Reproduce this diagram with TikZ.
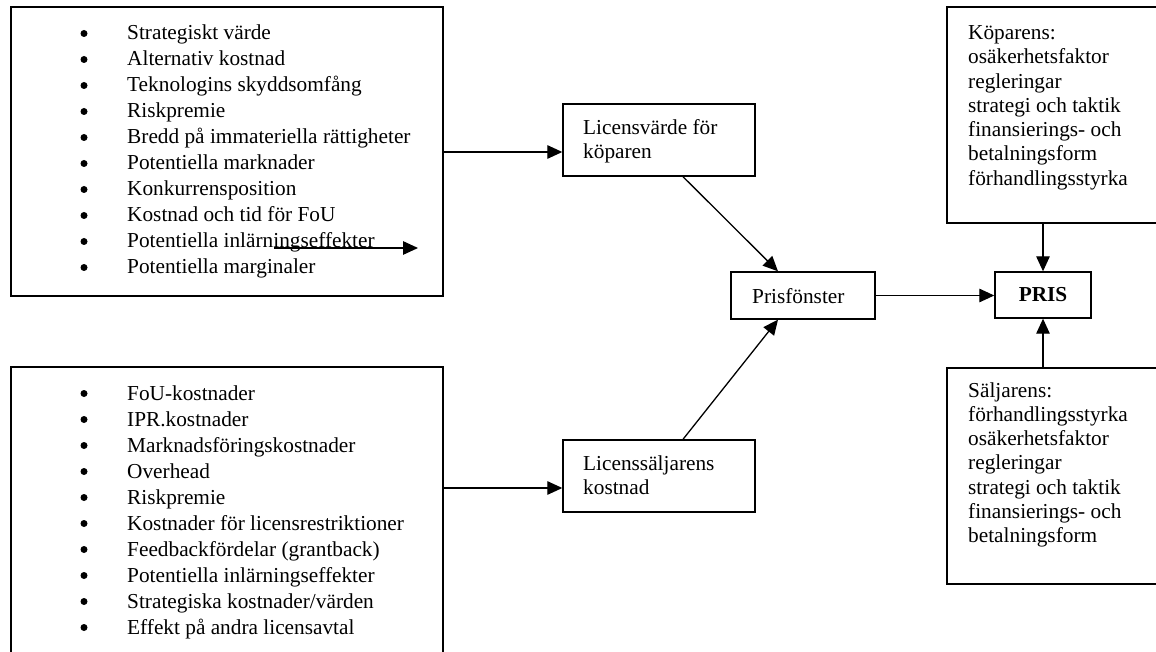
\documentclass[tikz,border=0pt]{standalone}
\usepackage{fontspec}
\setmainfont{Liberation Serif}
\usetikzlibrary{arrows.meta,calc}
\begin{document}
\begin{tikzpicture}[x=1pt,y=-1pt,
  box/.style={draw,line width=1.4pt,inner sep=0pt},
  arr/.style={line width=1.3pt,-{Triangle[length=15pt,width=13.5pt]}},
  txt/.style={inner sep=0pt,anchor=base west,font=\fontsize{21.3pt}{24.3pt}\selectfont},
  bul/.style={circle,fill,inner sep=0pt,minimum size=7pt}]
\useasboundingbox (0,0) rectangle (1156,652);
\clip (0,0) rectangle (1156,652);
\fill[white] (0,0) rectangle (1156,652);

% boxes
\node[box,minimum width=432pt,minimum height=289pt] (A) at (227,151.5) {};
\node[box,minimum width=432pt,minimum height=333pt] (B) at (227,533.5) {};
\node[box,minimum width=192pt,minimum height=72pt] (L1) at (659,140) {};
\node[box,minimum width=192pt,minimum height=72pt] (L2) at (659,476) {};
\node[box,minimum width=144pt,minimum height=47pt] (P) at (803,295.5) {};
\node[box,minimum width=96pt,minimum height=46pt] (R) at (1043,295) {};
\node[box,minimum width=253pt,minimum height=216pt] (K) at (1073.5,115) {};
\node[box,minimum width=253pt,minimum height=216pt] (S) at (1073.5,476) {};

% buyer value factors
\foreach \t [count=\i] in {{Strategiskt värde},{Alternativ kostnad},{Teknologins skyddsomfång},{Riskpremie},{Bredd på immateriella rättigheter},{Potentiella marknader},{Konkurrensposition},{Kostnad och tid för FoU},{Potentiella inlärningseffekter},{Potentiella marginaler}}{
  \node[bul] (ab\i) at (84,{33.5+26*(\i-1)}) {};
  \node[txt] (a\i) at (127,{40+26*(\i-1)}) {\t};
}
% seller cost factors
\foreach \t [count=\i] in {{FoU-kostnader},{IPR.kostnader},{Marknadsföringskostnader},{Overhead},{Riskpremie},{Kostnader för licensrestriktioner},{Feedbackfördelar (grantback)},{Potentiella inlärningseffekter},{Strategiska kostnader/värden},{Effekt på andra licensavtal}}{
  \node[bul] (bb\i) at (84,{393.5+26*(\i-1)}) {};
  \node[txt] (b\i) at (127,{400+26*(\i-1)}) {\t};
}

% middle texts
\node[txt] (L1a) at (583,134.5) {Licensvärde för};
\node[txt] (L1b) at (583,159) {köparen};
\node[txt] (L2a) at (583,470) {Licenssäljarens};
\node[txt] (L2b) at (583,494) {kostnad};
\node[txt] (Pt) at (752,303) {Prisfönster};
\node[txt,anchor=center,font=\fontsize{21.3pt}{24.3pt}\selectfont\bfseries] (Rt) at (R) {PRIS};

% right-hand texts
\foreach \t [count=\i] in {{Köparens:},{osäkerhetsfaktor},{regleringar},{strategi och taktik},{finansierings- och},{betalningsform},{förhandlingsstyrka}}{
  \node[txt] (k\i) at (968,{39.5+24.3*(\i-1)}) {\t};
}
\foreach \t [count=\i] in {{Säljarens:},{förhandlingsstyrka},{osäkerhetsfaktor},{regleringar},{strategi och taktik},{finansierings- och},{betalningsform}}{
  \node[txt] (s\i) at (968,{397+24.3*(\i-1)}) {\t};
}

% connectors
\coordinate (l1in) at ($(L1.west)+(0,12)$);
\coordinate (l2in) at ($(L2.west)+(0,12)$);
\draw[arr] (l1in -| A.east) -- (l1in);
\draw[arr] (l2in -| B.east) -- (l2in);
\draw[arr] ($(L1.south)+(24,0)$) -- ($(P.north)+(-25,0)$);
\draw[arr] ($(L2.north)+(24,0)$) -- ($(P.south)+(-25,0)$);
\draw[arr] (P.east) -- (P.east -| R.west);
\draw[arr] (R.north |- K.south) -- (R.north);
\draw[arr] (R.south |- S.north) -- (R.south);

% loose arrow inside the upper list
\coordinate (st) at (274,248);
\coordinate (en) at (418,248);
\draw[arr] (st) -- (en);
\end{tikzpicture}
\end{document}
